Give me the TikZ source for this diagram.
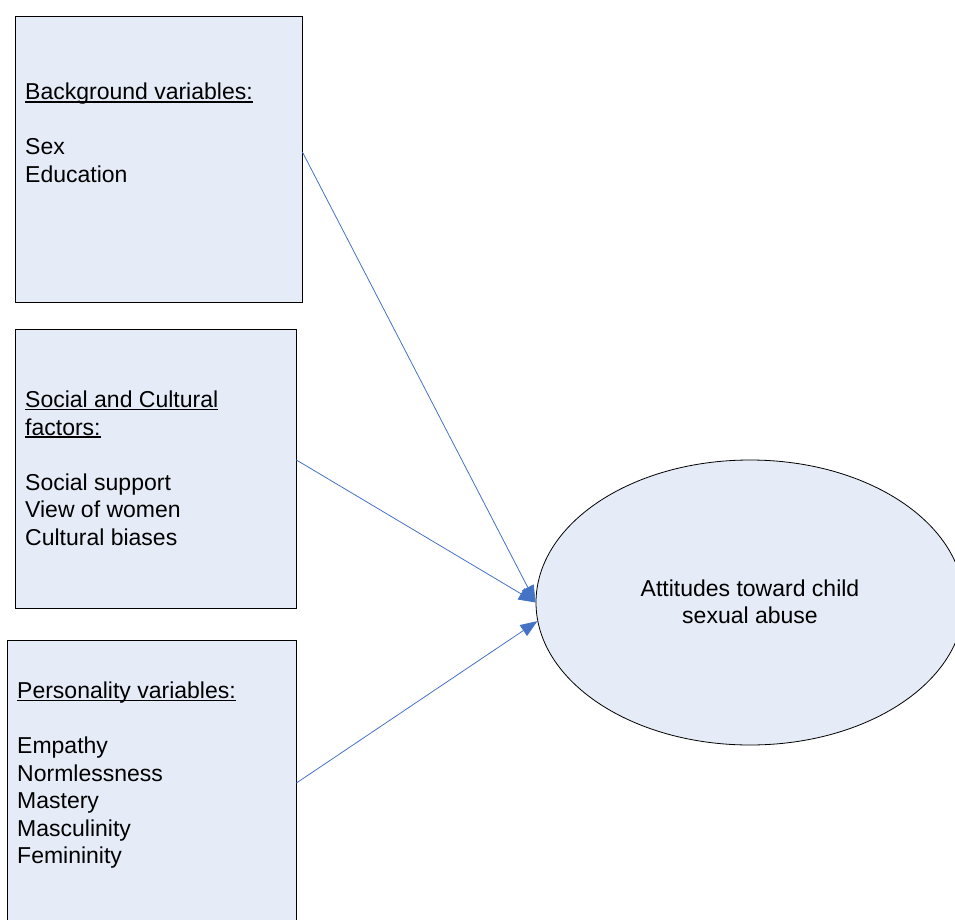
\documentclass[tikz,border=0pt]{standalone}
\usepackage{fontspec}
\setmainfont{Liberation Sans}
\usetikzlibrary{arrows.meta,shapes.geometric}
\definecolor{boxfill}{HTML}{E6ECF7}
\definecolor{arrowblue}{HTML}{4472C4}
\newlength\myullen
\newcommand\myul[1]{\settowidth{\myullen}{#1}\rlap{\rule[-2.6pt]{\myullen}{1.3pt}}#1}
\tikzset{
  varbox/.style={draw=black, line width=0.8pt, fill=boxfill, rectangle, inner sep=0pt},
  txt/.style={anchor=base west, inner sep=0pt, font=\fontsize{23}{27.5}\selectfont},
  ctxt/.style={anchor=base, inner sep=0pt, font=\fontsize{23}{27.5}\selectfont},
  link/.style={draw=arrowblue, line width=0.8pt, -{Triangle[length=17pt,width=13pt]}},
}
\begin{document}
\begin{tikzpicture}[x=1pt,y=-1pt]
\useasboundingbox (0,0) rectangle (955,920);
\clip (0,0) rectangle (955,920);
% boxes
\node[varbox, minimum width=287pt, minimum height=286pt] (box1) at (158.5,159) {};
\node[varbox, minimum width=281pt, minimum height=279pt] (box2) at (155.5,468.5) {};
\node[varbox, minimum width=289pt, minimum height=284pt] (box3) at (151.5,782) {};
% ellipse
\node[draw=black, line width=0.8pt, fill=boxfill, ellipse, inner sep=0pt,
      minimum width=428pt, minimum height=285pt] (ell) at (750,602.5) {};
% box 1 text
\node[txt] (b1h) at (25,100) {\myul{Background variables:}};
\node[txt] (b1a) at (25,155) {Sex};
\node[txt] (b1b) at (25,182.5) {Education};
% box 2 text
\node[txt] (b2h) at (25,407.5) {\myul{Social and Cultural}};
\node[txt] (b2i) at (25,435) {\myul{factors:}};
\node[txt] (b2a) at (25,490) {Social support};
\node[txt] (b2b) at (25,517.5) {View of women};
\node[txt] (b2c) at (25,545) {Cultural biases};
% box 3 text
\node[txt] (b3h) at (17,698.5) {\myul{Personality variables:}};
\node[txt] (b3a) at (17,753.5) {Empathy};
\node[txt] (b3b) at (17,781) {Normlessness};
\node[txt] (b3c) at (17,808.5) {Mastery};
\node[txt] (b3d) at (17,836) {Masculinity};
\node[txt] (b3e) at (17,863.5) {Femininity};
% ellipse text
\node[ctxt] (e1) at (750,596) {Attitudes toward child};
\node[ctxt] (e2) at (750,623.5) {sexual abuse};
% connector start points
\coordinate (s1) at (box1.east |- 0,152);
\coordinate (s2) at (box2.east |- 0,460);
\coordinate (s3) at (box3.east |- 0,783);
\draw[link] (s1) -- (ell.west);
\draw[link] (s2) -- (ell.west);
\draw[link] (s3) -- (ell.185);
\end{tikzpicture}
\end{document}
